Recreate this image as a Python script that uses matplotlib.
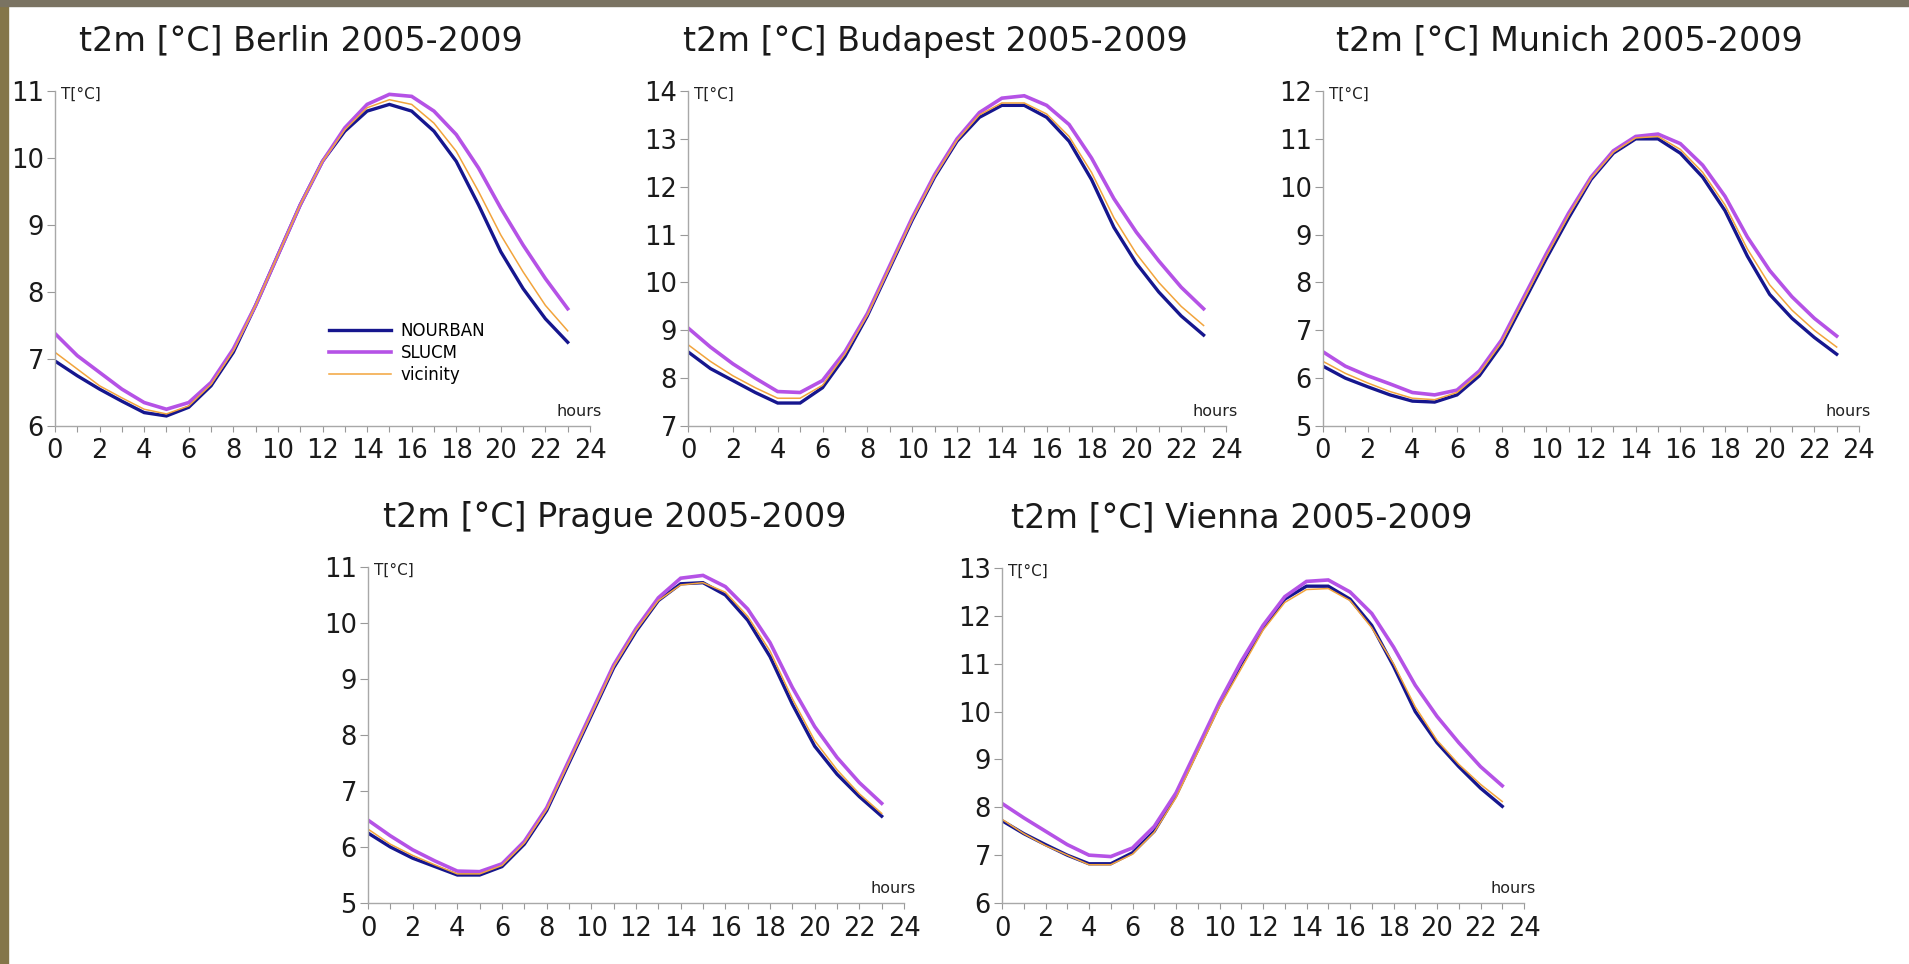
import matplotlib
matplotlib.use("Agg")
import matplotlib.pyplot as plt
from matplotlib.patches import Rectangle
from matplotlib.ticker import MultipleLocator

hours = list(range(24))

# 2 m temperature, mean diurnal cycle 2005-2009
berlin_nourban = [6.97, 6.75, 6.55, 6.37, 6.20, 6.15, 6.28, 6.60, 7.10, 7.80, 8.55, 9.30,
                  9.95, 10.40, 10.70, 10.80, 10.70, 10.40, 9.95, 9.30, 8.60, 8.05, 7.60, 7.25]
berlin_slucm = [7.38, 7.05, 6.80, 6.55, 6.35, 6.25, 6.35, 6.65, 7.15, 7.80, 8.55, 9.30,
                9.95, 10.45, 10.80, 10.95, 10.92, 10.70, 10.35, 9.85, 9.25, 8.70, 8.20, 7.75]
berlin_vicinity = [7.10, 6.85, 6.60, 6.42, 6.25, 6.18, 6.30, 6.62, 7.12, 7.80, 8.55, 9.30,
                   9.95, 10.42, 10.75, 10.87, 10.80, 10.52, 10.10, 9.50, 8.85, 8.30, 7.80, 7.42]

budapest_nourban = [8.55, 8.20, 7.95, 7.70, 7.48, 7.48, 7.80, 8.45, 9.30, 10.30, 11.30, 12.20,
                    12.95, 13.45, 13.70, 13.70, 13.45, 12.95, 12.15, 11.15, 10.40, 9.80, 9.30, 8.90]
budapest_slucm = [9.05, 8.65, 8.30, 8.00, 7.72, 7.70, 7.95, 8.55, 9.35, 10.35, 11.35, 12.25,
                  13.00, 13.55, 13.85, 13.90, 13.70, 13.30, 12.60, 11.75, 11.05, 10.45, 9.90, 9.45]
budapest_vicinity = [8.70, 8.35, 8.05, 7.80, 7.58, 7.58, 7.85, 8.50, 9.32, 10.32, 11.32, 12.22,
                     12.97, 13.50, 13.75, 13.75, 13.52, 13.05, 12.30, 11.35, 10.60, 10.00, 9.50, 9.10]

munich_nourban = [6.25, 6.00, 5.82, 5.65, 5.52, 5.50, 5.65, 6.05, 6.70, 7.60, 8.50, 9.35,
                  10.15, 10.70, 11.00, 11.00, 10.70, 10.20, 9.50, 8.55, 7.75, 7.25, 6.85, 6.50]
munich_slucm = [6.55, 6.25, 6.05, 5.88, 5.70, 5.65, 5.75, 6.15, 6.80, 7.70, 8.60, 9.45,
                10.20, 10.75, 11.05, 11.10, 10.90, 10.45, 9.80, 8.95, 8.25, 7.70, 7.25, 6.88]
munich_vicinity = [6.35, 6.10, 5.90, 5.72, 5.58, 5.55, 5.70, 6.10, 6.75, 7.65, 8.55, 9.40,
                   10.18, 10.72, 11.02, 11.05, 10.78, 10.30, 9.62, 8.70, 7.95, 7.42, 7.00, 6.65]

prague_nourban = [6.25, 6.00, 5.80, 5.65, 5.50, 5.50, 5.65, 6.05, 6.65, 7.50, 8.35, 9.20,
                  9.85, 10.40, 10.70, 10.72, 10.50, 10.05, 9.40, 8.55, 7.80, 7.30, 6.90, 6.55]
prague_slucm = [6.48, 6.20, 5.95, 5.75, 5.57, 5.56, 5.70, 6.10, 6.70, 7.55, 8.40, 9.25,
                9.90, 10.45, 10.80, 10.85, 10.65, 10.25, 9.65, 8.85, 8.15, 7.60, 7.15, 6.78]
prague_vicinity = [6.32, 6.05, 5.85, 5.68, 5.52, 5.52, 5.67, 6.07, 6.67, 7.52, 8.37, 9.22,
                   9.87, 10.40, 10.68, 10.72, 10.55, 10.12, 9.50, 8.65, 7.90, 7.38, 6.95, 6.60]

vienna_nourban = [7.72, 7.45, 7.22, 7.00, 6.82, 6.82, 7.05, 7.50, 8.25, 9.20, 10.15, 11.00,
                  11.75, 12.35, 12.62, 12.62, 12.35, 11.80, 10.95, 10.00, 9.35, 8.85, 8.40, 8.02]
vienna_slucm = [8.08, 7.78, 7.50, 7.22, 7.00, 6.97, 7.15, 7.60, 8.30, 9.25, 10.20, 11.05,
                11.80, 12.40, 12.72, 12.75, 12.50, 12.05, 11.35, 10.55, 9.90, 9.35, 8.85, 8.45]
vienna_vicinity = [7.75, 7.45, 7.20, 7.00, 6.80, 6.80, 7.02, 7.48, 8.20, 9.15, 10.10, 10.90,
                   11.70, 12.28, 12.55, 12.57, 12.32, 11.75, 11.00, 10.10, 9.40, 8.90, 8.48, 8.12]

cities = ["Berlin", "Budapest", "Munich", "Prague", "Vienna"]
y_limits = [(6, 11), (7, 14), (5, 12), (5, 11), (6, 13)]
series = [
    (berlin_nourban, berlin_slucm, berlin_vicinity),
    (budapest_nourban, budapest_slucm, budapest_vicinity),
    (munich_nourban, munich_slucm, munich_vicinity),
    (prague_nourban, prague_slucm, prague_vicinity),
    (vienna_nourban, vienna_slucm, vienna_vicinity),
]
run_names = ["NOURBAN", "SLUCM", "vicinity"]
run_colors = ["#16168e", "#b552e6", "#f2a43c"]
run_widths = [2.4, 2.6, 1.1]

W, H = 1909, 964
# axes boxes in pixels: left, top, right, bottom
boxes = [(55, 91, 590, 426), (688, 91, 1226, 426), (1323, 91, 1859, 426),
         (368, 567, 904, 903), (1002, 568, 1524, 903)]

fig = plt.figure(figsize=(W / 100, H / 100), dpi=100)
fig.patch.set_facecolor("white")

# the olive frame of the original slide
fig.add_artist(Rectangle((0, 0), 8 / W, 1, transform=fig.transFigure,
                         color="#847649", zorder=-5))
fig.add_artist(Rectangle((0, 1 - 6 / H), 1, 6 / H, transform=fig.transFigure,
                         color="#7a7362", zorder=-5))

for i, city in enumerate(cities):
    l, t, r, b = boxes[i]
    ax = fig.add_axes([l / W, 1 - b / H, (r - l) / W, (b - t) / H])
    for vals, name, c, lw in zip(series[i], run_names, run_colors, run_widths):
        ax.plot(hours, vals, color=c, lw=lw, label=name, solid_joinstyle="miter")

    ax.set_xlim(0, 24)
    ax.set_ylim(*y_limits[i])
    ax.xaxis.set_major_locator(MultipleLocator(2))
    ax.xaxis.set_minor_locator(MultipleLocator(1))
    ax.yaxis.set_major_locator(MultipleLocator(1))

    for side in ["top", "right"]:
        ax.spines[side].set_visible(False)
    for side in ["left", "bottom"]:
        ax.spines[side].set_color("#a8a8a8")
        ax.spines[side].set_linewidth(1.0)

    ax.tick_params(axis="x", which="both", direction="out", length=4.5, width=0.8,
                   color="#999999", labelsize=18.5, labelcolor="#1a1a1a", pad=4.5)
    ax.tick_params(axis="y", which="major", direction="out", length=6, width=0.8,
                   color="#999999", labelsize=18.5, labelcolor="#1a1a1a", pad=2)

    ax.text(0.46, 1.12, f"t2m [°C] {city} 2005-2009", transform=ax.transAxes,
            ha="center", va="baseline", fontsize=24, color="#1a1a1a")
    ax.text(0.011, 0.99, "T[°C]", transform=ax.transAxes, ha="left", va="center",
            fontsize=11, color="#222222")
    ax.text(1.022, 0.02, "hours", transform=ax.transAxes, ha="right", va="bottom",
            fontsize=11.5, color="#222222")

    if i == 0:
        ax.legend(loc="center left", bbox_to_anchor=(0.512, 0.218), frameon=False,
                  fontsize=12, handlelength=3.7, handletextpad=0.6,
                  labelspacing=0.25, borderpad=0, borderaxespad=0)

fig.savefig("out.png", dpi=100, facecolor="white")
